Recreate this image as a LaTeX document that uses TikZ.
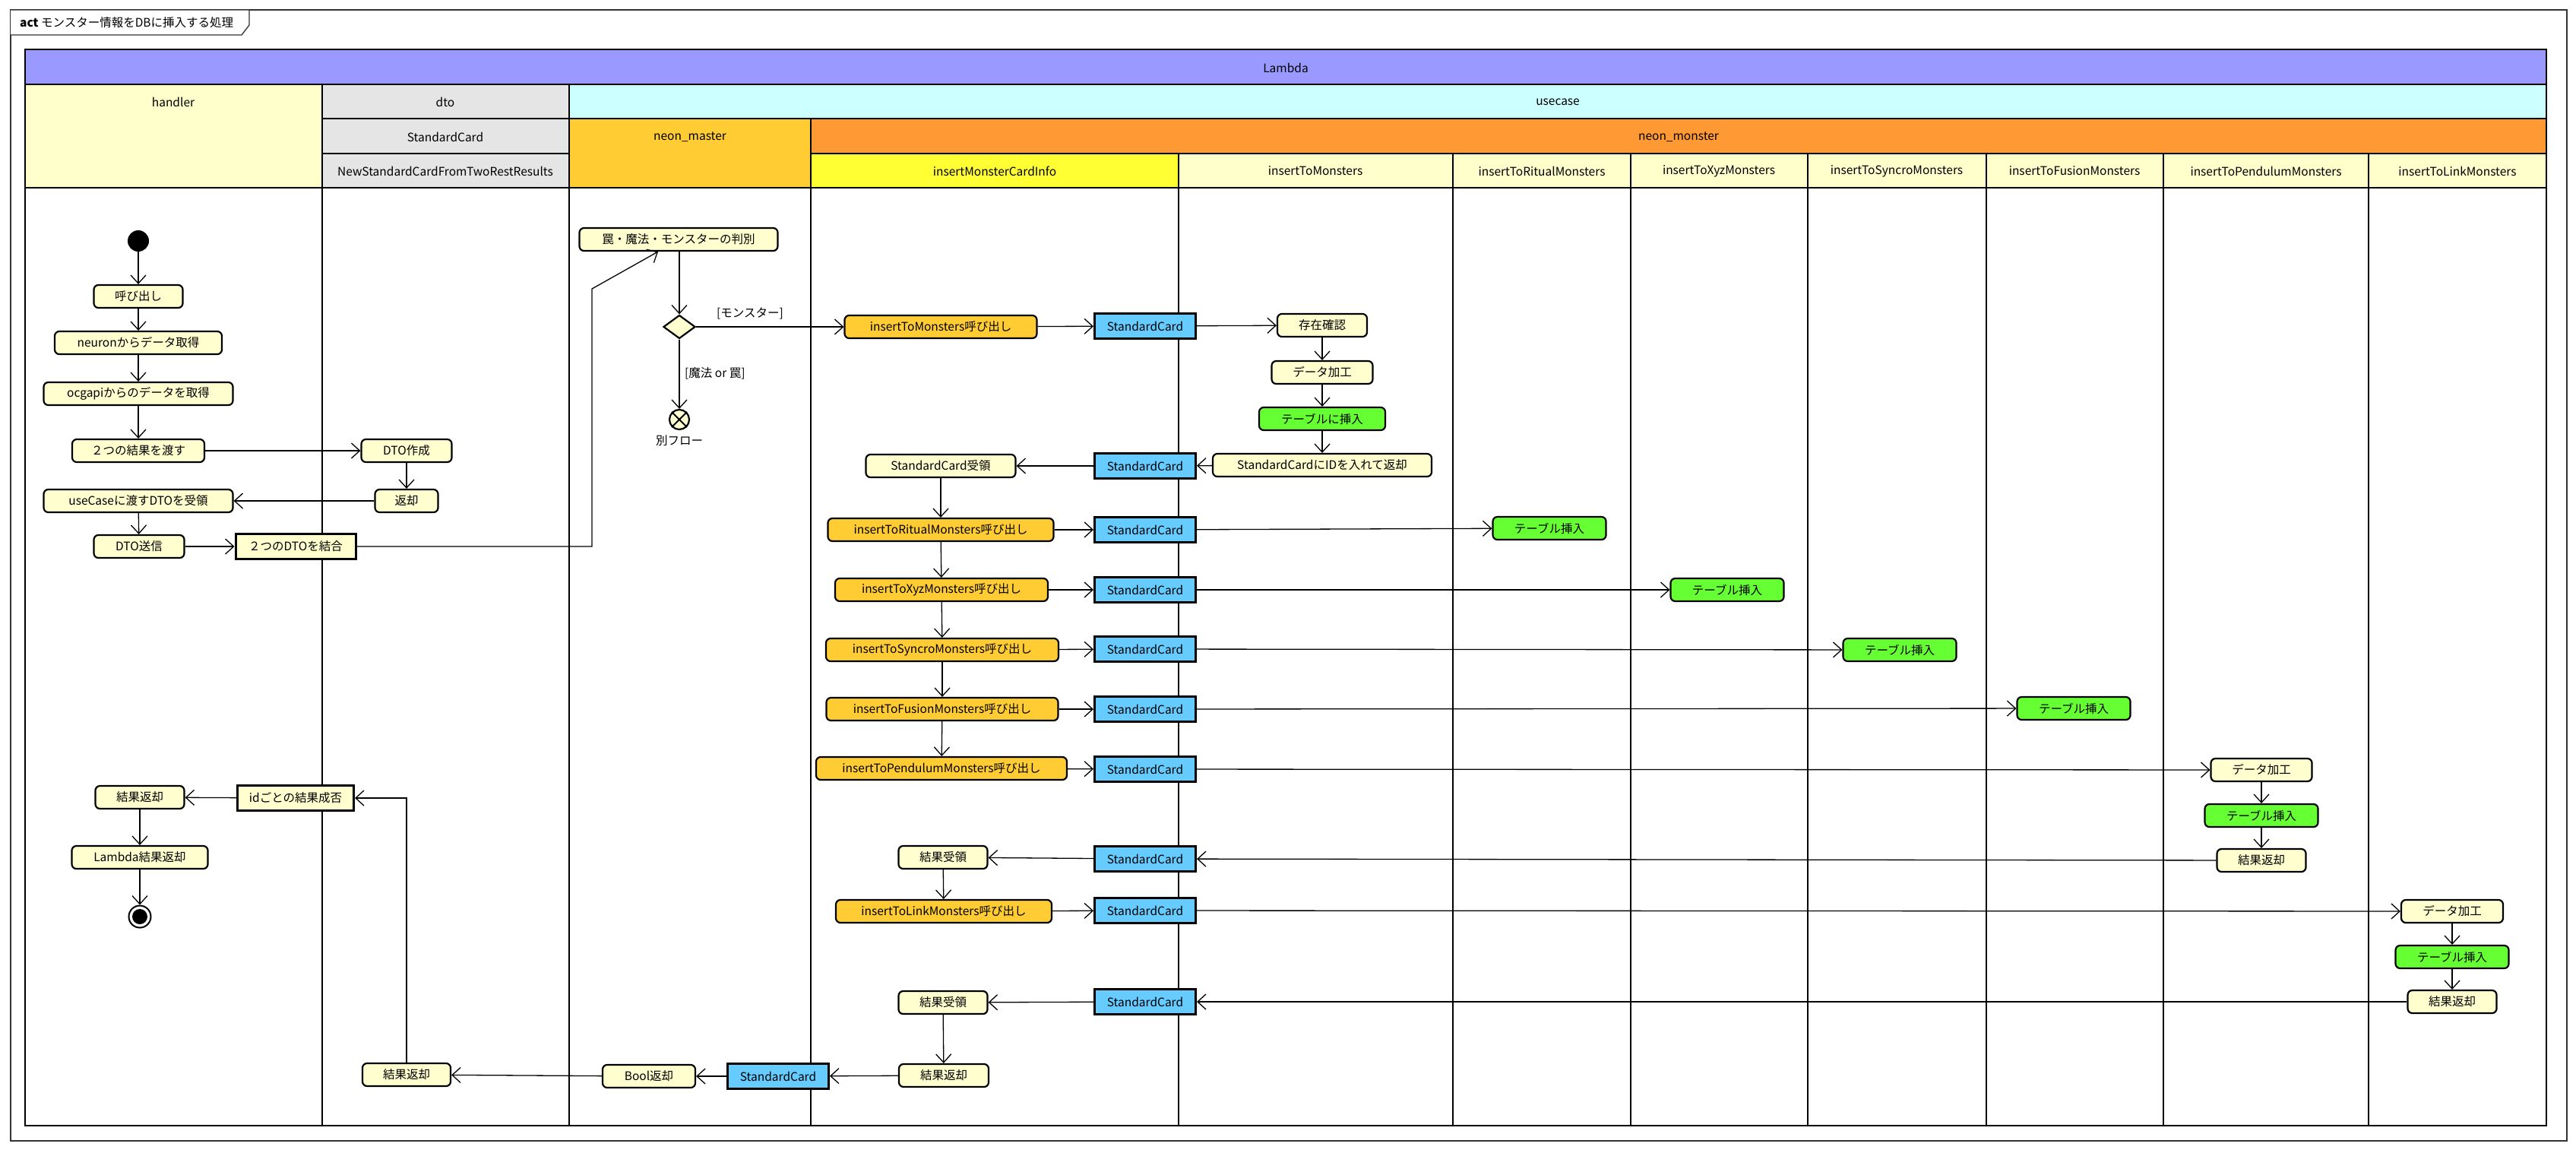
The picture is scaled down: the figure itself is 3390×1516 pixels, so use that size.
\documentclass[tikz,border=0pt]{standalone}
\usepackage{fontspec}
\setmainfont{Noto Sans CJK JP}
\usetikzlibrary{arrows.meta,shapes.geometric,calc}
\definecolor{lambdac}{HTML}{9999FF}
\definecolor{hdry}{HTML}{FFFFCC}
\definecolor{grayc}{HTML}{E5E5E5}
\definecolor{usec}{HTML}{CCFFFF}
\definecolor{masterc}{HTML}{FFCC33}
\definecolor{monsterc}{HTML}{FF9933}
\definecolor{yelc}{HTML}{FFFF33}
\definecolor{actc}{HTML}{FEFECE}
\definecolor{orc}{HTML}{FFCC33}
\definecolor{bluec}{HTML}{66CCFF}
\definecolor{greenc}{HTML}{66FF33}
\tikzset{
  act/.style={draw, line width=2.2pt, rounded corners=6pt, fill=actc, minimum height=30pt, inner sep=0pt},
  oract/.style={act, fill=orc},
  gract/.style={act, fill=greenc},
  objbox/.style={draw, line width=3pt, fill=bluec, minimum width=133pt, minimum height=33pt, inner sep=0pt},
  rectact/.style={draw, line width=3pt, fill=actc, minimum height=33pt, inner sep=0pt},
  arr/.style={draw, line width=1.3pt, -{Straight Barb[length=11pt,width=20pt,line width=1.3pt]}},
  lane/.style={line width=2.8pt},
  lbl/.style={inner sep=0pt}
}
\begin{document}
\begin{tikzpicture}[x=1pt,y=-1pt,font=\fontsize{15.5pt}{18pt}\selectfont]
\useasboundingbox (0,0) rectangle (3390,1516);
\fill[white] (0,0) rectangle (3390,1516);
% outer frame and tab
\draw[line width=1.3pt, black!80] (14,13) rectangle (3378,1501);
\draw[line width=1.3pt, black!80, fill=white] (14,13) -- (328,13) -- (328,33) -- (318,46) -- (14,46);
\node[lbl, anchor=west] (title) at (26,30) {\textbf{act} モンスター情報をDBに挿入する処理};
% header fills
\fill[lambdac] (33,65) rectangle (3351,111);
\fill[hdry] (33,111) rectangle (424,247);
\fill[grayc] (424,111) rectangle (749,247);
\fill[usec] (749,111) rectangle (3351,156);
\fill[masterc] (749,156) rectangle (1067,247);
\fill[monsterc] (1067,156) rectangle (3351,202);
\fill[yelc] (1067,202) rectangle (1551,247);
\fill[hdry] (1551,202) rectangle (3351,247);
% lane lines
\draw[lane] (33,65) rectangle (3351,1481);
\draw[lane] (33,111) -- (3351,111);
\draw[lane] (424,156) -- (3351,156);
\draw[lane] (424,202) -- (749,202);
\draw[lane] (1067,202) -- (3351,202);
\draw[lane] (33,247) -- (3351,247);
\draw[lane] (424,111) -- (424,1481);
\draw[lane] (749,111) -- (749,1481);
\draw[lane] (1067,156) -- (1067,1481);
\foreach \xx in {1551,1912,2146,2379,2614,2847,3117} {\draw[lane] (\xx,202) -- (\xx,1481);}
% header texts
\node[lbl] (hLambda) at (1692,89) {Lambda};
\node[lbl] (hHandler) at (228,134) {handler};
\node[lbl] (hDto) at (586,134) {dto};
\node[lbl] (hStd) at (586,180) {StandardCard};
\node[lbl] (hNew) at (586,225) {NewStandardCardFromTwoRestResults};
\node[lbl] (hUse) at (2050,134) {usecase};
\node[lbl] (hMaster) at (908,180) {neon\_master};
\node[lbl] (hMonster) at (2209,180) {neon\_monster};
\node[lbl] (hInfo) at (1309,225) {insertMonsterCardInfo};
\node[lbl] (hToM) at (1731,225) {insertToMonsters};
\node[lbl] (hRit) at (2029,225) {insertToRitualMonsters};
\node[lbl] (hXyz) at (2262,225) {insertToXyzMonsters};
\node[lbl] (hSyn) at (2496,225) {insertToSyncroMonsters};
\node[lbl] (hFus) at (2730,225) {insertToFusionMonsters};
\node[lbl] (hPen) at (2982,225) {insertToPendulumMonsters};
\node[lbl] (hLnk) at (3234,225) {insertToLinkMonsters};
% handler / dto nodes
\node[circle, fill=black, minimum size=28pt, inner sep=0pt] (start) at (182,317) {};
\node[act, minimum width=117pt] (call) at (182,390) {呼び出し};
\node[act, minimum width=220pt] (neuron) at (182,451) {neuronからデータ取得};
\node[act, minimum width=249pt] (ocg) at (182,518) {ocgapiからのデータを取得};
\node[act, minimum width=174pt] (pass) at (182,593) {２つの結果を渡す};
\node[act, minimum width=119pt] (dtoc) at (535,593) {DTO作成};
\node[act, minimum width=83pt] (ret) at (535,659) {返却};
\node[act, minimum width=249pt] (recv) at (182,659) {useCaseに渡すDTOを受領};
\node[act, minimum width=119pt] (send) at (183,719) {DTO送信};
\node[rectact, minimum width=158pt] (join) at (389,719) {２つのDTOを結合};
% neon_master
\node[act, minimum width=261pt] (judge) at (893,315) {罠・魔法・モンスターの判別};
\node[diamond, draw, line width=2.2pt, fill=actc, minimum width=42pt, minimum height=31pt, inner sep=0pt] (dia) at (894,430) {};
\node[lbl] (lMon) at (987,412) {[モンスター]};
\node[lbl, anchor=west] (lMag) at (901,491) {[魔法 or 罠]};
\node[circle, draw, line width=2.2pt, fill=actc, minimum size=26pt, inner sep=0pt] (fend) at (894,552) {};
\node[lbl] (other) at (894,580) {別フロー};
% usecase
\node[oract, minimum width=253pt] (c1) at (1238,430) {insertToMonsters呼び出し};
\node[objbox] (sc1) at (1507,429) {StandardCard};
\node[act, minimum width=118pt] (exist) at (1740,428) {存在確認};
\node[act, minimum width=133pt] (proc) at (1740,490) {データ加工};
\node[gract, minimum width=166pt] (ins) at (1740,551) {テーブルに挿入};
\node[act, minimum width=288pt] (retid) at (1740,612) {StandardCardにIDを入れて返却};
\node[objbox] (sc2) at (1507,613) {StandardCard};
\node[act, minimum width=197pt] (srecv) at (1238,613) {StandardCard受領};
\node[oract, minimum width=297pt] (c2) at (1238,697) {insertToRitualMonsters呼び出し};
\node[objbox] (sc3) at (1507,697) {StandardCard};
\node[gract, minimum width=149pt] (trit) at (2039,695) {テーブル挿入};
\node[oract, minimum width=280pt] (c3) at (1239,776) {insertToXyzMonsters呼び出し};
\node[objbox] (sc4) at (1507,776) {StandardCard};
\node[gract, minimum width=149pt] (txyz) at (2273,776) {テーブル挿入};
\node[oract, minimum width=306pt] (c4) at (1240,855) {insertToSyncroMonsters呼び出し};
\node[objbox] (sc5) at (1507,854) {StandardCard};
\node[gract, minimum width=149pt] (tsyn) at (2500,855) {テーブル挿入};
\node[oract, minimum width=305pt] (c5) at (1240,933) {insertToFusionMonsters呼び出し};
\node[objbox] (sc6) at (1507,933) {StandardCard};
\node[gract, minimum width=149pt] (tfus) at (2729,932) {テーブル挿入};
\node[oract, minimum width=330pt] (c6) at (1239,1011) {insertToPendulumMonsters呼び出し};
\node[objbox] (sc7) at (1507,1012) {StandardCard};
\node[act, minimum width=133pt] (pproc) at (2976,1013) {データ加工};
\node[gract, minimum width=149pt] (pins) at (2976,1073) {テーブル挿入};
\node[act, minimum width=117pt] (pret) at (2976,1132) {結果返却};
\node[objbox] (sc8) at (1507,1130) {StandardCard};
\node[act, minimum width=117pt] (rr1) at (1241,1128) {結果受領};
\node[oract, minimum width=284pt] (c7) at (1242,1199) {insertToLinkMonsters呼び出し};
\node[objbox] (sc9) at (1507,1198) {StandardCard};
\node[act, minimum width=134pt] (lproc) at (3227,1199) {データ加工};
\node[gract, minimum width=149pt] (lins) at (3227,1259) {テーブル挿入};
\node[act, minimum width=117pt] (lret) at (3227,1318) {結果返却};
\node[objbox] (sc10) at (1507,1318) {StandardCard};
\node[act, minimum width=117pt] (rr2) at (1241,1319) {結果受領};
\node[act, minimum width=118pt] (fin) at (1242,1415) {結果返却};
\node[objbox] (sc11) at (1024,1416) {StandardCard};
\node[act, minimum width=122pt] (bool) at (854,1416) {Bool返却};
\node[act, minimum width=116pt] (dret) at (535,1414) {結果返却};
\node[rectact, minimum width=153pt] (idres) at (389,1050) {idごとの結果成否};
\node[act, minimum width=117pt] (hres) at (184,1049) {結果返却};
\node[act, minimum width=179pt] (lres) at (184,1128) {Lambda結果返却};
\node[circle, draw, line width=2pt, fill=white, minimum size=29pt, inner sep=0pt] (fin2) at (184,1206) {};
\node[circle, fill=black, minimum size=20pt, inner sep=0pt] (fin2in) at (184,1206) {};
% flow-end cross
\draw[line width=2pt] (fend.north east) -- (fend.south west);
\draw[line width=2pt] (fend.north west) -- (fend.south east);
% connectors
\coordinate (jb1) at (779,719);
\coordinate (jb2) at (779,380);
\draw[arr] (start) -- (call);
\draw[arr] (call) -- (neuron);
\draw[arr] (neuron) -- (ocg);
\draw[arr] (ocg) -- (pass);
\draw[arr] (pass) -- (dtoc);
\draw[arr] (dtoc) -- (ret);
\draw[arr] (ret) -- (recv);
\draw[arr] (recv) -- (send);
\draw[arr] (send) -- (join);
\draw[arr] (join.east) -- (jb1) -- (jb2) -- ([xshift=-27pt]judge.south);
\draw[arr] (judge.south -| dia.north) -- (dia.north);
\draw[arr] (dia.south) -- (fend.north);
\draw[arr] (dia.east) -- (c1.west);
\draw[arr] (c1) -- (sc1);
\draw[arr] (sc1) -- (exist);
\draw[arr] (exist) -- (proc);
\draw[arr] (proc) -- (ins);
\draw[arr] (ins) -- (retid);
\draw[arr] (retid) -- (sc2);
\draw[arr] (sc2) -- (srecv);
\draw[arr] (srecv) -- (c2);
\draw[arr] (c2) -- (sc3);
\draw[arr] (sc3) -- (trit);
\draw[arr] (c2) -- (c3);
\draw[arr] (c3) -- (sc4);
\draw[arr] (sc4) -- (txyz);
\draw[arr] (c3) -- (c4);
\draw[arr] (c4) -- (sc5);
\draw[arr] (sc5) -- (tsyn);
\draw[arr] (c4) -- (c5);
\draw[arr] (c5) -- (sc6);
\draw[arr] (sc6) -- (tfus);
\draw[arr] (c5) -- (c6);
\draw[arr] (c6) -- (sc7);
\draw[arr] (sc7) -- (pproc);
\draw[arr] (pproc) -- (pins);
\draw[arr] (pins) -- (pret);
\draw[arr] (pret) -- (sc8);
\draw[arr] (sc8) -- (rr1);
\draw[arr] (rr1) -- (c7);
\draw[arr] (c7) -- (sc9);
\draw[arr] (sc9) -- (lproc);
\draw[arr] (lproc) -- (lins);
\draw[arr] (lins) -- (lret);
\draw[arr] (lret) -- (sc10);
\draw[arr] (sc10) -- (rr2);
\draw[arr] (rr2) -- (fin);
\draw[arr] (fin) -- (sc11);
\draw[arr] (sc11) -- (bool);
\draw[arr] (bool) -- (dret);
\draw[arr] (dret.north) |- (idres.east);
\draw[arr] (idres) -- (hres);
\draw[arr] (hres) -- (lres);
\draw[arr] (lres) -- (fin2);
\end{tikzpicture}
\end{document}
